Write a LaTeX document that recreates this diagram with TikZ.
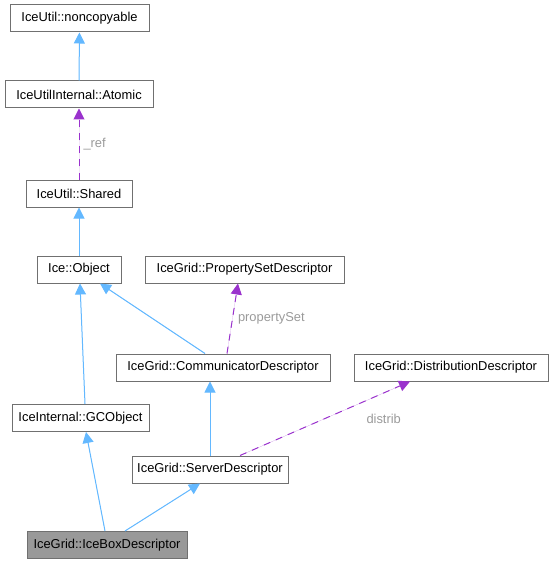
\documentclass[tikz,border=0pt]{standalone}
\usepackage{fontspec}
\setmainfont{Liberation Sans}
\usepackage{xcolor}
\usetikzlibrary{positioning,arrows.meta}
\definecolor{edgegray}{HTML}{707070}
\definecolor{inhblue}{HTML}{63B8FF}
\definecolor{usepurple}{HTML}{9A32CD}
\definecolor{lblgray}{HTML}{9A9A9A}
\definecolor{curfill}{HTML}{999999}

\begin{document}
\begin{tikzpicture}[
  x=1pt,y=-1pt,
  font=\fontsize{12.9}{15}\selectfont,
  cls/.style={draw=edgegray,line width=1pt,fill=white,minimum height=27pt,inner sep=2pt},
  cur/.style={cls,fill=curfill},
  inh/.style={-{Triangle[length=11pt,width=11pt]},line width=1pt,draw=inhblue,fill=inhblue},
  uses/.style={-{Triangle[length=11pt,width=11pt]},line width=1pt,draw=usepurple,fill=usepurple,dash pattern=on 7pt off 6pt},
  lbl/.style={font=\fontsize{12.9}{15}\selectfont,text=lblgray,inner sep=1pt}]
  \useasboundingbox (0,0) rectangle (554,564);
  \node[cls,minimum width=139pt] (noncopyable) at (79.5,18.5) {IceUtil::noncopyable};
  \node[cls,minimum width=148pt] (atomic) at (79,94.5) {IceUtilInternal::Atomic};
  \node[cls,minimum width=106pt] (shared) at (79,193.5) {IceUtil::Shared};
  \node[cls,minimum width=84pt] (object) at (79,269.5) {Ice::Object};
  \node[cls,minimum width=199pt] (propset) at (244.5,269.5) {IceGrid::PropertySetDescriptor};
  \node[cls,minimum width=214pt] (comm) at (223,367.5) {IceGrid::CommunicatorDescriptor};
  \node[cls,minimum width=194pt] (distrib) at (451,367.5) {IceGrid::DistributionDescriptor};
  \node[cls,minimum width=137pt] (gcobject) at (80.5,418) {IceInternal::GCObject};
  \node[cls,minimum width=156pt] (server) at (210,469.5) {IceGrid::ServerDescriptor};
  \node[cur,minimum width=160pt] (icebox) at (107,545) {IceGrid::IceBoxDescriptor};

  \draw[inh] (atomic) -- (noncopyable);
  \draw[uses] (shared) -- node[lbl,right=3pt]{\_ref} (atomic);
  \draw[inh] (object) -- (shared);
  \draw[inh] ([xshift=-18]comm.north) -- ([xshift=21]object.south);
  \draw[uses] ([xshift=4]comm.north) -- node[lbl,right=4pt]{propertySet} ([xshift=-6.5]propset.south);
  \draw[inh] ([xshift=4.5]gcobject.north) -- ([xshift=1]object.south);
  \draw[inh] (server.north) -- (server.north |- comm.south);
  \draw[uses] ([xshift=30]server.north) -- node[lbl,right=40pt]{distrib} ([xshift=-41]distrib.south);
  \draw[inh] ([xshift=-2]icebox.north) -- ([xshift=5.5]gcobject.south);
  \draw[inh] ([xshift=18]icebox.north) -- ([xshift=-10]server.south);
\end{tikzpicture}
\end{document}
